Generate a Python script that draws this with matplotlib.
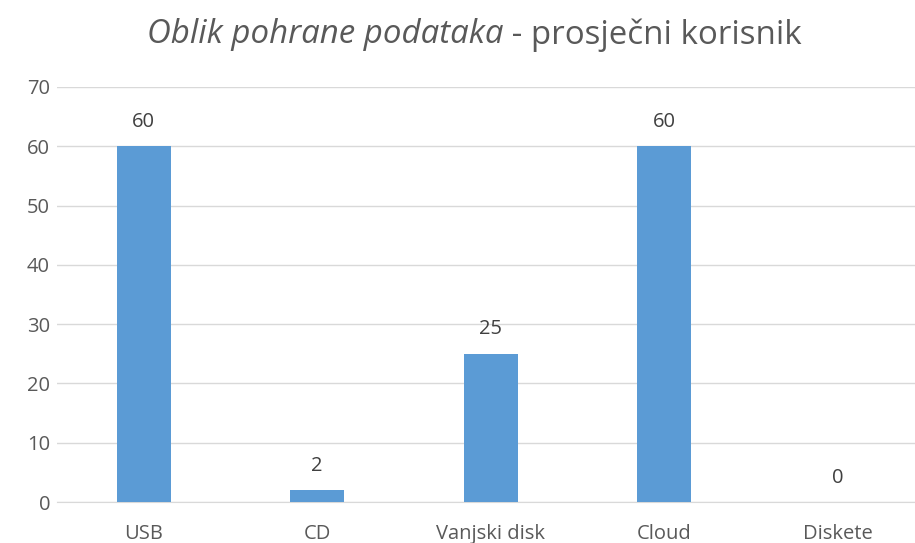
import matplotlib
matplotlib.use("Agg")
import matplotlib.pyplot as plt

categories = ["USB", "CD", "Vanjski disk", "Cloud", "Diskete"]
values = [60, 2, 25, 60, 0]
yticks = [0, 10, 20, 30, 40, 50, 60, 70]

plt.rcParams['font.family'] = ['Open Sans', 'DejaVu Sans']

fig = plt.figure(figsize=(9.15, 5.43), dpi=100)
W, H = 915, 543
left, right = 57, 924.5
bottom, top = 502, 87
ax = fig.add_axes([left / W, 1 - bottom / H, (right - left) / W, (bottom - top) / H])

x = list(range(len(categories)))
ax.bar(x, values, width=0.31, color="#5B9BD5", zorder=3)
for xi, v in zip(x, values):
    ax.annotate(str(v), (xi, v), xytext=(0, 17.5), textcoords="offset points",
                ha="center", va="center", fontsize=14.5, color="#404040")

ax.set_xlim(-0.5, len(categories) - 0.5)
ax.set_ylim(0, 70)
ax.set_yticks(yticks)
ax.set_xticks(x)
ax.set_xticklabels(categories)
ax.tick_params(axis="both", length=0, labelsize=14.5, colors="#595959")
ax.tick_params(axis="y", pad=5)
ax.tick_params(axis="x", pad=16)
ax.grid(axis="y", color="#D9D9D9", linewidth=1, zorder=0)
for s in ["left", "right", "top"]:
    ax.spines[s].set_visible(False)
ax.spines["bottom"].set_color("#D9D9D9")

t1 = "Oblik pohrane podataka"
t2 = " - prosječni korisnik"
fs = 23.8
ty = 1 - 35 / H
a = fig.text(0, ty, t1, fontsize=fs, style="italic", color="#595959", ha="left", va="center")
b = fig.text(0, ty, t2, fontsize=fs, color="#595959", ha="left", va="center")
fig.canvas.draw()
wa = a.get_window_extent().width
wb = b.get_window_extent().width
start = 474.5 - (wa + wb) / 2
a.set_x(start / W)
b.set_x((start + wa) / W)

fig.savefig("out.png", dpi=100)
